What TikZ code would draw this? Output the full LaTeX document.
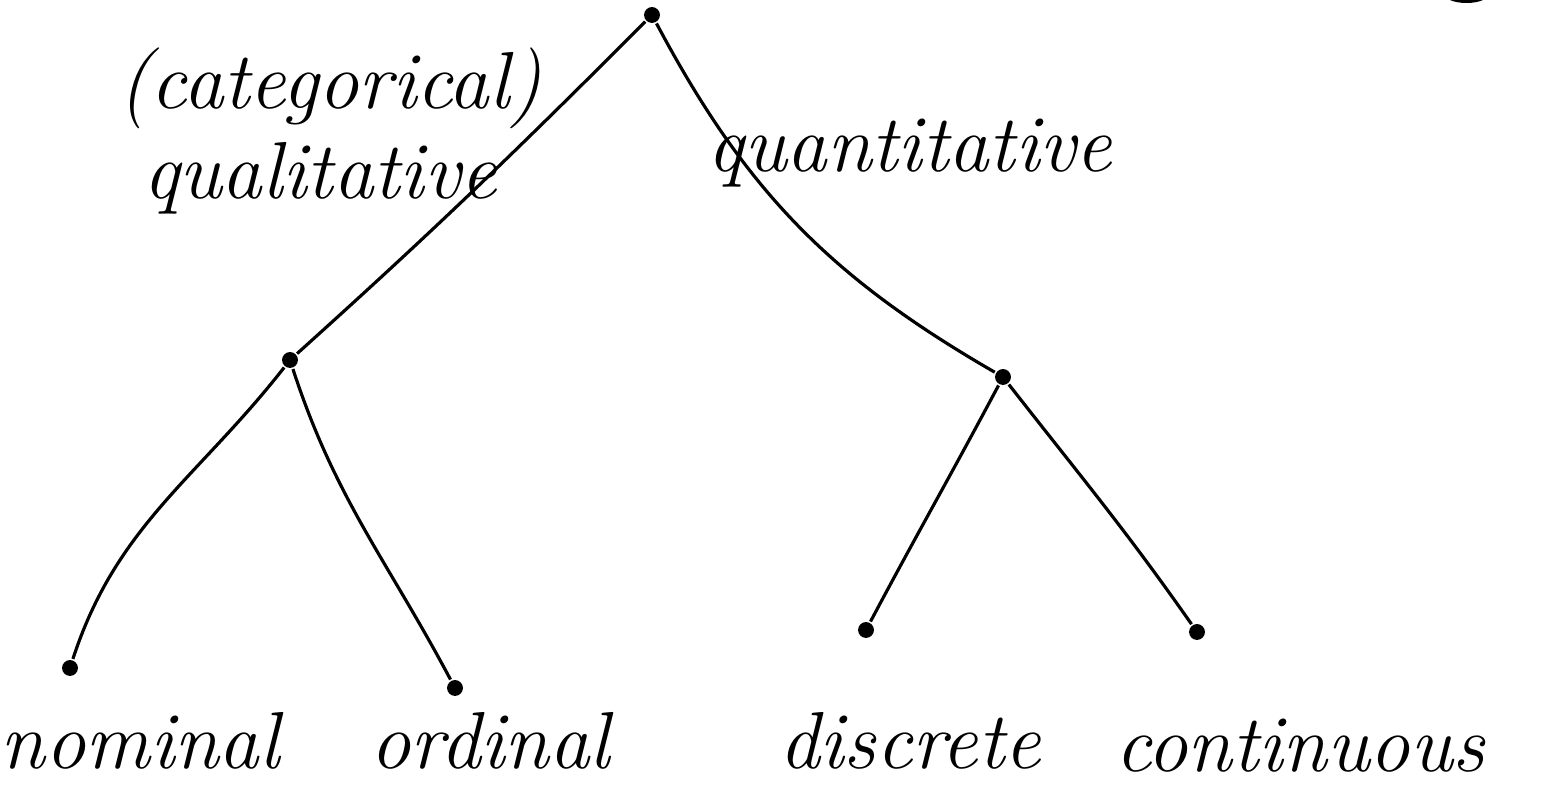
\documentclass[tikz,border=0pt]{standalone}
\usepackage{tikz}
\usepackage{xcolor}

\begin{document}
\begin{tikzpicture}[line width=0.9pt]
    \tikzset{dot/.style={circle,fill=black,inner sep=1.6pt},
             lbl/.style={font=\fontsize{23}{28}\selectfont\itshape}}
    \useasboundingbox (0,0) rectangle (15.49,8.03);

    \node[dot] (root) at (6.52,7.88) {};
    \node[dot] (qual) at (2.90,4.43) {};
    \node[dot] (quant) at (10.03,4.26) {};
    \node[dot] (nom) at (0.70,1.35) {};
    \node[dot] (ord) at (4.55,1.15) {};
    \node[dot] (disc) at (8.66,1.73) {};
    \node[dot] (cont) at (11.97,1.71) {};
    \fill (14.50,8.03) -- (14.83,8.03) .. controls (14.75,7.99) and (14.58,7.99) .. (14.50,8.03);

    \draw (root) to[out=-135,in=42] (qual);
    \draw (root) to[out=-62,in=150] (quant);
    \draw (qual) to[out=-128,in=72] (nom);
    \draw (qual) to[out=-72,in=118] (ord);
    \draw (quant) to[out=-118,in=62] (disc);
    \draw (quant) to[out=-52,in=125] (cont);

    \node[lbl] (catlbl) at (3.30,7.15) {(categorical)};
    \node[lbl] (qllbl) at (3.20,6.25) {qualitative};
    \node[lbl] (qnlbl) at (9.10,6.50) {quantitative};
    \node[lbl] (nomlbl) at (1.40,0.62) {nominal};
    \node[lbl] (ordlbl) at (4.90,0.62) {ordinal};
    \node[lbl] (disclbl) at (9.10,0.62) {discrete};
    \node[lbl] (contlbl) at (13.00,0.57) {continuous};

\end{tikzpicture}
\end{document}
